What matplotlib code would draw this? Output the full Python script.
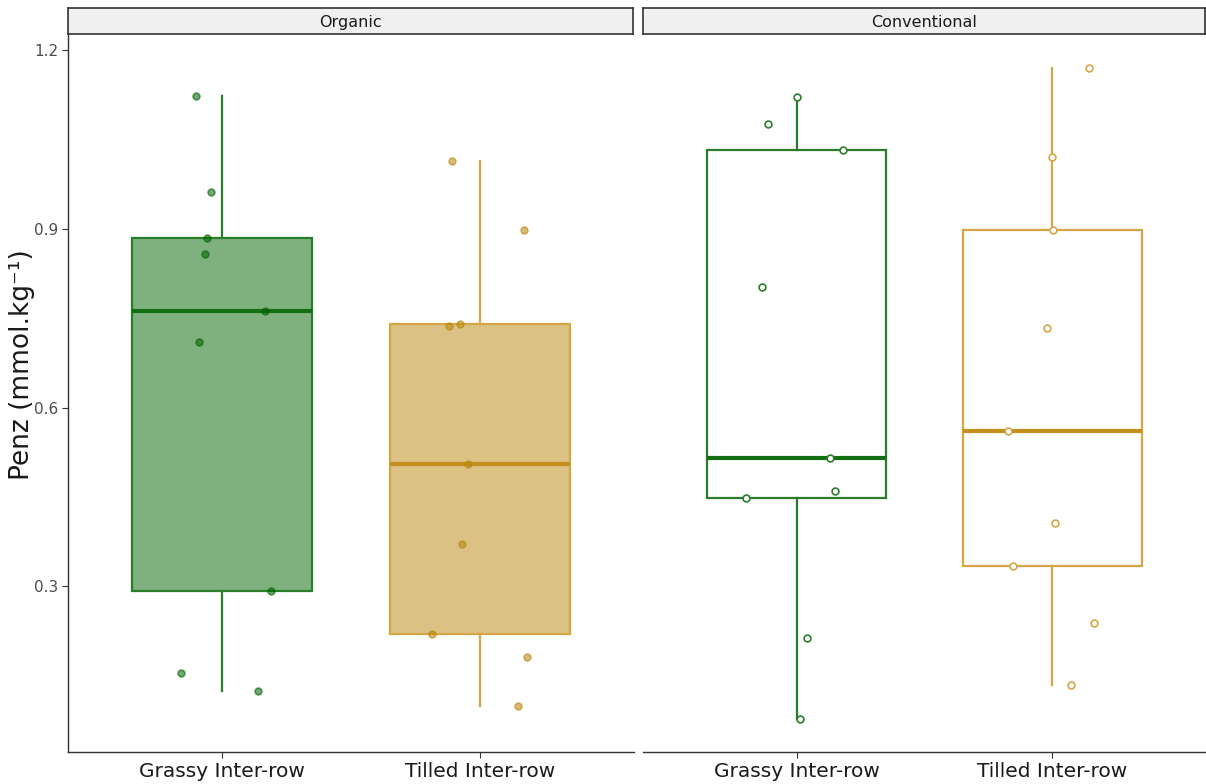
import numpy as np
import matplotlib
matplotlib.use("Agg")
import matplotlib.pyplot as plt

# data
panels = ["Organic", "Conventional"]
groups = ["Grassy Inter-row", "Tilled Inter-row"]

org_grassy = [1.123, 0.961, 0.884, 0.857, 0.762, 0.710, 0.292, 0.155, 0.125]
org_tilled = [1.013, 0.897, 0.740, 0.737, 0.506, 0.371, 0.221, 0.182, 0.099]
con_grassy = [1.121, 1.075, 1.031, 0.802, 0.515, 0.460, 0.448, 0.214, 0.077]
con_tilled = [1.170, 1.020, 0.897, 0.734, 0.560, 0.406, 0.334, 0.239, 0.135]

# horizontal jitter of each point (category units)
jit_org_grassy = [-0.103, -0.044, -0.060, -0.068, 0.165, -0.091, 0.188, -0.161, 0.139]
jit_org_tilled = [-0.108, 0.172, -0.076, -0.119, -0.045, -0.069, -0.185, 0.184, 0.149]
jit_con_grassy = [0.0, -0.111, 0.182, -0.135, 0.131, 0.150, -0.197, 0.041, 0.014]
jit_con_tilled = [0.141, 0.0, 0.004, -0.020, -0.172, 0.008, -0.156, 0.164, 0.074]

data = {
    "Organic": [org_grassy, org_tilled],
    "Conventional": [con_grassy, con_tilled],
}
jitter = {
    "Organic": [jit_org_grassy, jit_org_tilled],
    "Conventional": [jit_con_grassy, jit_con_tilled],
}

line_cols = ["#2b7d2b", "#d6a545"]
med_cols = ["#146e14", "#c48f1c"]
base_cols = ["#006400", "#b8860b"]

W, H = 1206, 784
fig = plt.figure(figsize=(W / 100, H / 100), dpi=100)

allv = np.concatenate([org_grassy, org_tilled, con_grassy, con_tilled])
rng = allv.max() - allv.min()
ylim = (allv.min() - 0.05 * rng, allv.max() + 0.05 * rng)

panel_px = [(68, 634), (643, 1206)]
top, bottom = 35, 752

for p, (name, (x0, x1)) in enumerate(zip(panels, panel_px)):
    ax = fig.add_axes([x0 / W, 1 - bottom / H, (x1 - x0) / W, (bottom - top) / H])
    filled = name == "Organic"
    for i in range(2):
        vals = data[name][i]
        bp = ax.boxplot([vals], positions=[i + 1], widths=0.7, patch_artist=True,
                        showfliers=False, showcaps=False, whis=1.5)
        box = bp["boxes"][0]
        if filled:
            box.set_facecolor(matplotlib.colors.to_rgba(base_cols[i], 0.5))
        else:
            box.set_facecolor("none")
        box.set_edgecolor(line_cols[i])
        box.set_linewidth(1.6)
        for w in bp["whiskers"]:
            w.set_color(line_cols[i])
            w.set_linewidth(1.6)
        for m in bp["medians"]:
            m.set_color(med_cols[i])
            m.set_linewidth(3)
        xs = np.array(jitter[name][i]) + i + 1
        if filled:
            ax.scatter(xs, vals, s=24, facecolor=matplotlib.colors.to_rgba(base_cols[i], 0.55),
                       edgecolor=matplotlib.colors.to_rgba(base_cols[i], 0.6), linewidth=1.2, zorder=3)
        else:
            ax.scatter(xs, vals, s=24, facecolor="white",
                       edgecolor=line_cols[i], linewidth=1.2, zorder=3)

    ax.set_xlim(0.4, 2.6)
    ax.set_ylim(*ylim)
    ax.set_xticks([1, 2])
    ax.set_xticklabels(groups, fontsize=14.5, color="#1a1a1a")
    ax.tick_params(axis="x", length=4, color="#333333", pad=3)
    for s in ["top", "right"]:
        ax.spines[s].set_visible(False)
    ax.spines["bottom"].set_color("#333333")
    ax.spines["bottom"].set_linewidth(1.0)
    if p == 0:
        ax.set_yticks([0.3, 0.6, 0.9, 1.2])
        ax.set_yticklabels(["0.3", "0.6", "0.9", "1.2"], fontsize=11, color="#4d4d4d")
        ax.tick_params(axis="y", length=4, color="#333333", pad=3)
        ax.spines["left"].set_color("#333333")
        ax.spines["left"].set_linewidth(1.0)
    else:
        ax.spines["left"].set_visible(False)
        ax.set_yticks([])

    # facet strip
    sx = fig.add_axes([x0 / W, 1 - 34 / H, (x1 - x0 - 1) / W, 26 / H])
    sx.set_facecolor("#f0f0f0")
    sx.set_xticks([])
    sx.set_yticks([])
    for s in sx.spines.values():
        s.set_color("#333333")
        s.set_linewidth(1.2)
    sx.text(0.5, 0.45, name, ha="center", va="center", fontsize=11.5, color="#1a1a1a",
            transform=sx.transAxes)

fig.text(22 / W, 1 - 365 / H, "Penz (mmol.kg⁻¹)", rotation=90, ha="center", va="center",
         fontsize=19, color="#1a1a1a")

fig.savefig("out.png", dpi=100, facecolor="white")
